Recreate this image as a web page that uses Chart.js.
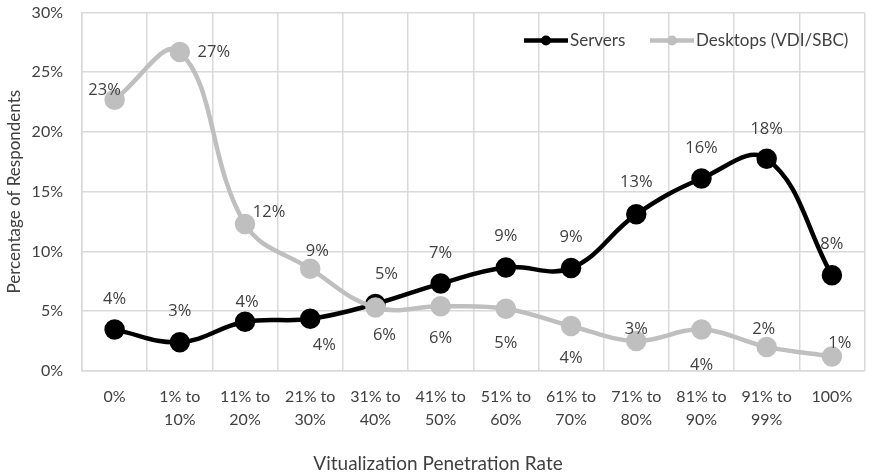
<!DOCTYPE html>
<html>
<head>
<meta charset="utf-8">
<script src="https://cdn.jsdelivr.net/npm/chart.js@4.4.1/dist/chart.umd.min.js"></script>
<style>
  html, body { margin: 0; padding: 0; background: #fff; }
  #wrap { width: 877px; height: 475px; }
</style>
</head>
<body>
<div id="wrap"><canvas id="chart"></canvas></div>
<script>
const categories = [
    '0%', ['1% to', '10%'], ['11% to', '20%'], ['21% to', '30%'], ['31% to', '40%'],
    ['41% to', '50%'], ['51% to', '60%'], ['61% to', '70%'], ['71% to', '80%'],
    ['81% to', '90%'], ['91% to', '99%'], '100%'
];
const servers = [3.45, 2.4, 4.1, 4.35, 5.6, 7.3, 8.65, 8.6, 13.1, 16.1, 17.75, 8.0];
const desktops = [22.7, 26.7, 12.3, 8.55, 5.3, 5.4, 5.2, 3.75, 2.5, 3.45, 2.0, 1.2];
const serverLabels = ['4%', '3%', '4%', '4%', '5%', '7%', '9%', '9%', '13%', '16%', '18%', '8%'];
const desktopLabels = ['23%', '27%', '12%', '9%', '6%', '6%', '5%', '4%', '3%', '4%', '2%', '1%'];
const yTicks = [0, 5, 10, 15, 20, 25, 30];

// label offsets from each point, [dx, dy] in px
const serverLabelPos = [[0, -30], [0, -31], [2, -20], [14, 26], [11, -30], [0, -30], [0, -31], [0, -31], [0, -32], [0, -30], [0, -30], [0, -31]];
const desktopLabelPos = [[-10, -9], [34, 0], [24, -12], [7, -17], [9, 28], [0, 32], [0, 35], [0, 32], [0, -12], [0, 36], [-3, -18], [8, -13]];

const axisFont = 'Lato, "Liberation Sans", sans-serif';
const labelFont = '"Open Sans", "Noto Sans", sans-serif';
const textColor = '#404040';
const gridColor = '#d9d9d9';

const pointLabels = {
    id: 'pointLabels',
    afterDatasetsDraw(chart) {
        const ctx = chart.ctx;
        ctx.save();
        ctx.font = '16.5px ' + labelFont;
        ctx.fillStyle = textColor;
        ctx.textAlign = 'center';
        ctx.textBaseline = 'middle';
        chart.data.datasets.forEach((ds, i) => {
            const meta = chart.getDatasetMeta(i);
            meta.data.forEach((pt, j) => {
                const off = ds.labelPos[j];
                ctx.fillText(ds.labels[j], pt.x + off[0], pt.y + off[1]);
            });
        });
        ctx.restore();
    }
};

// legend sits inside the plot, top right
const insideLegend = {
    id: 'insideLegend',
    afterDraw(chart) {
        const ctx = chart.ctx;
        const y = chart.chartArea.top + 28;
        const items = [
            { ds: chart.data.datasets[0], x: 524 },
            { ds: chart.data.datasets[1], x: 650 }
        ];
        ctx.save();
        ctx.font = '17px ' + axisFont;
        ctx.textBaseline = 'middle';
        items.forEach(it => {
            ctx.strokeStyle = it.ds.borderColor;
            ctx.lineWidth = 4.5;
            ctx.beginPath();
            ctx.moveTo(it.x, y);
            ctx.lineTo(it.x + 44, y);
            ctx.stroke();
            ctx.fillStyle = it.ds.pointBackgroundColor;
            ctx.beginPath();
            ctx.arc(it.x + 22, y, 5, 0, Math.PI * 2);
            ctx.fill();
            ctx.fillStyle = textColor;
            ctx.fillText(it.ds.label, it.x + 46, y);
        });
        ctx.restore();
    }
};

new Chart(document.getElementById('chart'), {
    type: 'line',
    data: {
        labels: categories,
        datasets: [
            {
                label: 'Servers',
                data: servers,
                labels: serverLabels,
                labelPos: serverLabelPos,
                borderColor: '#000000',
                backgroundColor: '#000000',
                pointBackgroundColor: '#000000',
                pointBorderColor: '#000000',
                borderWidth: 4.5,
                pointRadius: 8,
                tension: 0.4,
                order: 1
            },
            {
                label: 'Desktops (VDI/SBC)',
                data: desktops,
                labels: desktopLabels,
                labelPos: desktopLabelPos,
                borderColor: '#bfbfbf',
                backgroundColor: '#bfbfbf',
                pointBackgroundColor: '#bfbfbf',
                pointBorderColor: '#bfbfbf',
                borderWidth: 4.5,
                pointRadius: 8,
                tension: 0.4,
                order: 0
            }
        ]
    },
    options: {
        responsive: true,
        maintainAspectRatio: false,
        animation: false,
        layout: { padding: { top: 0, right: 1, bottom: 0, left: 0 } },
        scales: {
            x: {
                offset: true,
                grid: { color: gridColor, lineWidth: 1.5, offset: true, drawTicks: false },
                border: { color: gridColor, width: 1.5 },
                ticks: {
                    color: textColor,
                    font: { family: axisFont, size: 16, lineHeight: 1.45 },
                    padding: 14,
                    maxRotation: 0,
                    autoSkip: false
                },
                afterFit(scale) { scale.height = 81.4; }
            },
            y: {
                min: 0,
                max: 30,
                afterBuildTicks(scale) { scale.ticks = yTicks.map(v => ({ value: v })); },
                // invisible tick marks give the gap between labels and the plot
                grid: { color: gridColor, lineWidth: 1.5, drawTicks: true, tickLength: 19, tickColor: 'rgba(0,0,0,0)' },
                border: { color: gridColor, width: 1.5 },
                ticks: {
                    color: textColor,
                    font: { family: axisFont, size: 16 },
                    padding: 0,
                    callback: v => v + '%'
                },
                title: {
                    display: true,
                    text: 'Percentage of Respondents',
                    color: textColor,
                    font: { family: axisFont, size: 17 },
                    padding: { top: 4, bottom: 4 }
                },
                afterFit(scale) {
                    scale.width = 82;
                    scale.paddingTop = 9;
                }
            }
        },
        plugins: {
            legend: { display: false },
            tooltip: { enabled: false },
            title: {
                display: true,
                position: 'bottom',
                text: 'Vitualization Penetration Rate',
                color: textColor,
                font: { family: axisFont, size: 19, weight: 'normal', lineHeight: 1.2 },
                padding: { top: 0, bottom: 0 }
            }
        }
    },
    plugins: [pointLabels, insideLegend]
});
</script>
</body>
</html>
